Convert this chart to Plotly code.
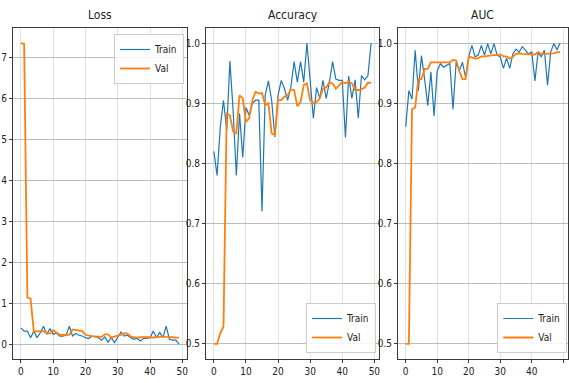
import plotly.graph_objects as go

epochs = list(range(50))

loss_train = [0.41, 0.33, 0.33, 0.17, 0.33, 0.17, 0.29, 0.45, 0.25, 0.39,
              0.25, 0.29, 0.21, 0.21, 0.23, 0.45, 0.21, 0.27, 0.23, 0.21,
              0.17, 0.15, 0.21, 0.19, 0.17, 0.11, 0.19, 0.06, 0.17, 0.05,
              0.17, 0.31, 0.21, 0.23, 0.17, 0.13, 0.15, 0.09, 0.15, 0.15,
              0.17, 0.33, 0.17, 0.30, 0.17, 0.45, 0.13, 0.11, 0.11, 0.01]
loss_val = [7.35, 7.33, 1.15, 1.12, 0.32, 0.32, 0.33, 0.33, 0.28, 0.27,
            0.35, 0.30, 0.24, 0.24, 0.24, 0.24, 0.37, 0.36, 0.34, 0.33,
            0.24, 0.22, 0.20, 0.20, 0.19, 0.19, 0.25, 0.25, 0.17, 0.20,
            0.22, 0.24, 0.28, 0.27, 0.20, 0.18, 0.17, 0.18, 0.18, 0.19,
            0.18, 0.17, 0.18, 0.18, 0.20, 0.19, 0.19, 0.18, 0.17, 0.17]

acc_train = [0.82, 0.78, 0.86, 0.905, 0.855, 0.97, 0.888, 0.78, 0.883, 0.81,
             0.893, 0.88, 0.90, 0.905, 0.905, 0.72, 0.914, 0.937, 0.905, 0.844,
             0.913, 0.938, 0.924, 0.905, 0.927, 0.969, 0.935, 0.969, 0.935, 1.0,
             0.938, 0.875, 0.926, 0.908, 0.938, 0.908, 0.935, 0.969, 0.94, 0.938,
             0.938, 0.843, 0.945, 0.908, 0.939, 0.875, 0.946, 0.939, 0.946, 1.0]
acc_val = [0.5, 0.5, 0.518, 0.529, 0.883, 0.88, 0.853, 0.85, 0.913, 0.908,
           0.869, 0.875, 0.905, 0.919, 0.916, 0.917, 0.897, 0.9, 0.85, 0.847,
           0.905, 0.905, 0.911, 0.913, 0.923, 0.922, 0.895, 0.902, 0.93, 0.933,
           0.905, 0.9, 0.902, 0.908, 0.924, 0.926, 0.935, 0.933, 0.924, 0.93,
           0.935, 0.933, 0.936, 0.933, 0.922, 0.922, 0.923, 0.926, 0.934, 0.934]

auc_train = [0.861, 0.921, 0.907, 0.988, 0.921, 0.979, 0.94, 0.896, 0.952, 0.879,
             0.954, 0.966, 0.96, 0.963, 0.966, 0.89, 0.968, 0.954, 0.968, 0.943,
             0.978, 0.996, 0.977, 0.98, 0.996, 0.98, 0.999, 0.982, 0.999, 0.98,
             0.977, 0.958, 0.975, 0.958, 0.982, 0.99, 0.985, 0.994, 0.988, 0.982,
             0.985, 0.937, 0.985, 0.977, 0.988, 0.93, 0.985, 0.999, 0.989, 1.0]
auc_val = [0.5, 0.5, 0.89, 0.893, 0.94, 0.94, 0.957, 0.957, 0.968, 0.968,
           0.967, 0.967, 0.967, 0.967, 0.968, 0.972, 0.971, 0.954, 0.94, 0.94,
           0.977, 0.976, 0.974, 0.975, 0.978, 0.978, 0.979, 0.979, 0.98, 0.98,
           0.981, 0.978, 0.978, 0.974, 0.977, 0.982, 0.983, 0.982, 0.982, 0.982,
           0.982, 0.981, 0.985, 0.982, 0.982, 0.982, 0.982, 0.983, 0.985, 0.985]

titles = ["Loss", "Accuracy", "AUC"]
series = [(loss_train, loss_val), (acc_train, acc_val), (auc_train, auc_val)]

BLUE = "#1f77b4"
ORANGE = "#ff7f0e"
FONT = "DejaVu Sans Condensed, Liberation Sans Narrow, DejaVu Sans, sans-serif"

xdomains = [[13 / 569, 187 / 569], [206 / 569, 379 / 569], [398 / 569, 0.998]]
ydomain = [1 - 359 / 383, 1 - 28 / 383]

fig = go.Figure()
for i, (tr, va) in enumerate(series):
    ax = "" if i == 0 else str(i + 1)
    leg = "legend" if i == 0 else "legend" + str(i + 1)
    fig.add_trace(go.Scatter(x=epochs, y=tr, mode="lines", name="Train",
                             line=dict(color=BLUE, width=1.2),
                             xaxis="x" + ax, yaxis="y" + ax, legend=leg))
    fig.add_trace(go.Scatter(x=epochs, y=va, mode="lines", name="Val",
                             line=dict(color=ORANGE, width=1.8),
                             xaxis="x" + ax, yaxis="y" + ax, legend=leg))

axis_common = dict(showline=True, mirror=True, linecolor="#3a3a3a", linewidth=1,
                   ticks="outside", ticklen=3, tickcolor="#3a3a3a",
                   zeroline=False, tickfont=dict(family=FONT, size=10, color="#222"))

layout = dict(width=569, height=383, margin=dict(l=0, r=0, t=0, b=0),
              plot_bgcolor="white", paper_bgcolor="white",
              font=dict(family=FONT, size=10, color="#222"))

for i in range(3):
    ax = "" if i == 0 else str(i + 1)
    xa = dict(axis_common, domain=xdomains[i], anchor="y" + ax,
              range=[-2.45, 51.45], tickvals=[0, 10, 20, 30, 40, 50],
              showgrid=True, gridcolor="#e2e2e2", gridwidth=1)
    if i == 0:
        ya = dict(axis_common, domain=ydomain, anchor="x" + ax,
                  range=[-0.35, 7.72], tickvals=list(range(8)),
                  showgrid=True, gridcolor="#bdbdbd", gridwidth=1.4)
    else:
        ya = dict(axis_common, domain=ydomain, anchor="x" + ax,
                  range=[0.475, 1.025], tickvals=[0.5, 0.6, 0.7, 0.8, 0.9, 1.0],
                  ticktext=["0.5", "0.6", "0.7", "0.8", "0.9", "1.0"],
                  showgrid=True, gridcolor="#bdbdbd", gridwidth=1.4)
    layout["xaxis" + ax] = xa
    layout["yaxis" + ax] = ya

leg_common = dict(bgcolor="rgba(255,255,255,0.85)", bordercolor="#cccccc", borderwidth=1,
                  font=dict(family=FONT, size=10, color="#222"), itemwidth=30,
                  tracegroupgap=2)
layout["legend"] = dict(leg_common, x=184 / 569, y=1 - 34 / 383, xanchor="right", yanchor="top")
layout["legend2"] = dict(leg_common, x=376 / 569, y=1 - 353 / 383, xanchor="right", yanchor="bottom")
layout["legend3"] = dict(leg_common, x=0.997, y=1 - 353 / 383, xanchor="right", yanchor="bottom")

annotations = []
for i, t in enumerate(titles):
    cx = (xdomains[i][0] + xdomains[i][1]) / 2
    annotations.append(dict(text=t, x=cx, y=1 - 15 / 383, xref="paper", yref="paper",
                            showarrow=False, xanchor="center", yanchor="middle",
                            font=dict(family=FONT, size=12, color="#222")))
layout["annotations"] = annotations

fig.update_layout(**layout)
fig.write_html("out.html", config={"displayModeBar": False})

with open("out.html", "r", encoding="utf-8") as f:
    html = f.read()
html = html.replace("<head>", "<head><style>html,body{margin:0;padding:0;overflow:hidden;}</style>", 1)
with open("out.html", "w", encoding="utf-8") as f:
    f.write(html)
